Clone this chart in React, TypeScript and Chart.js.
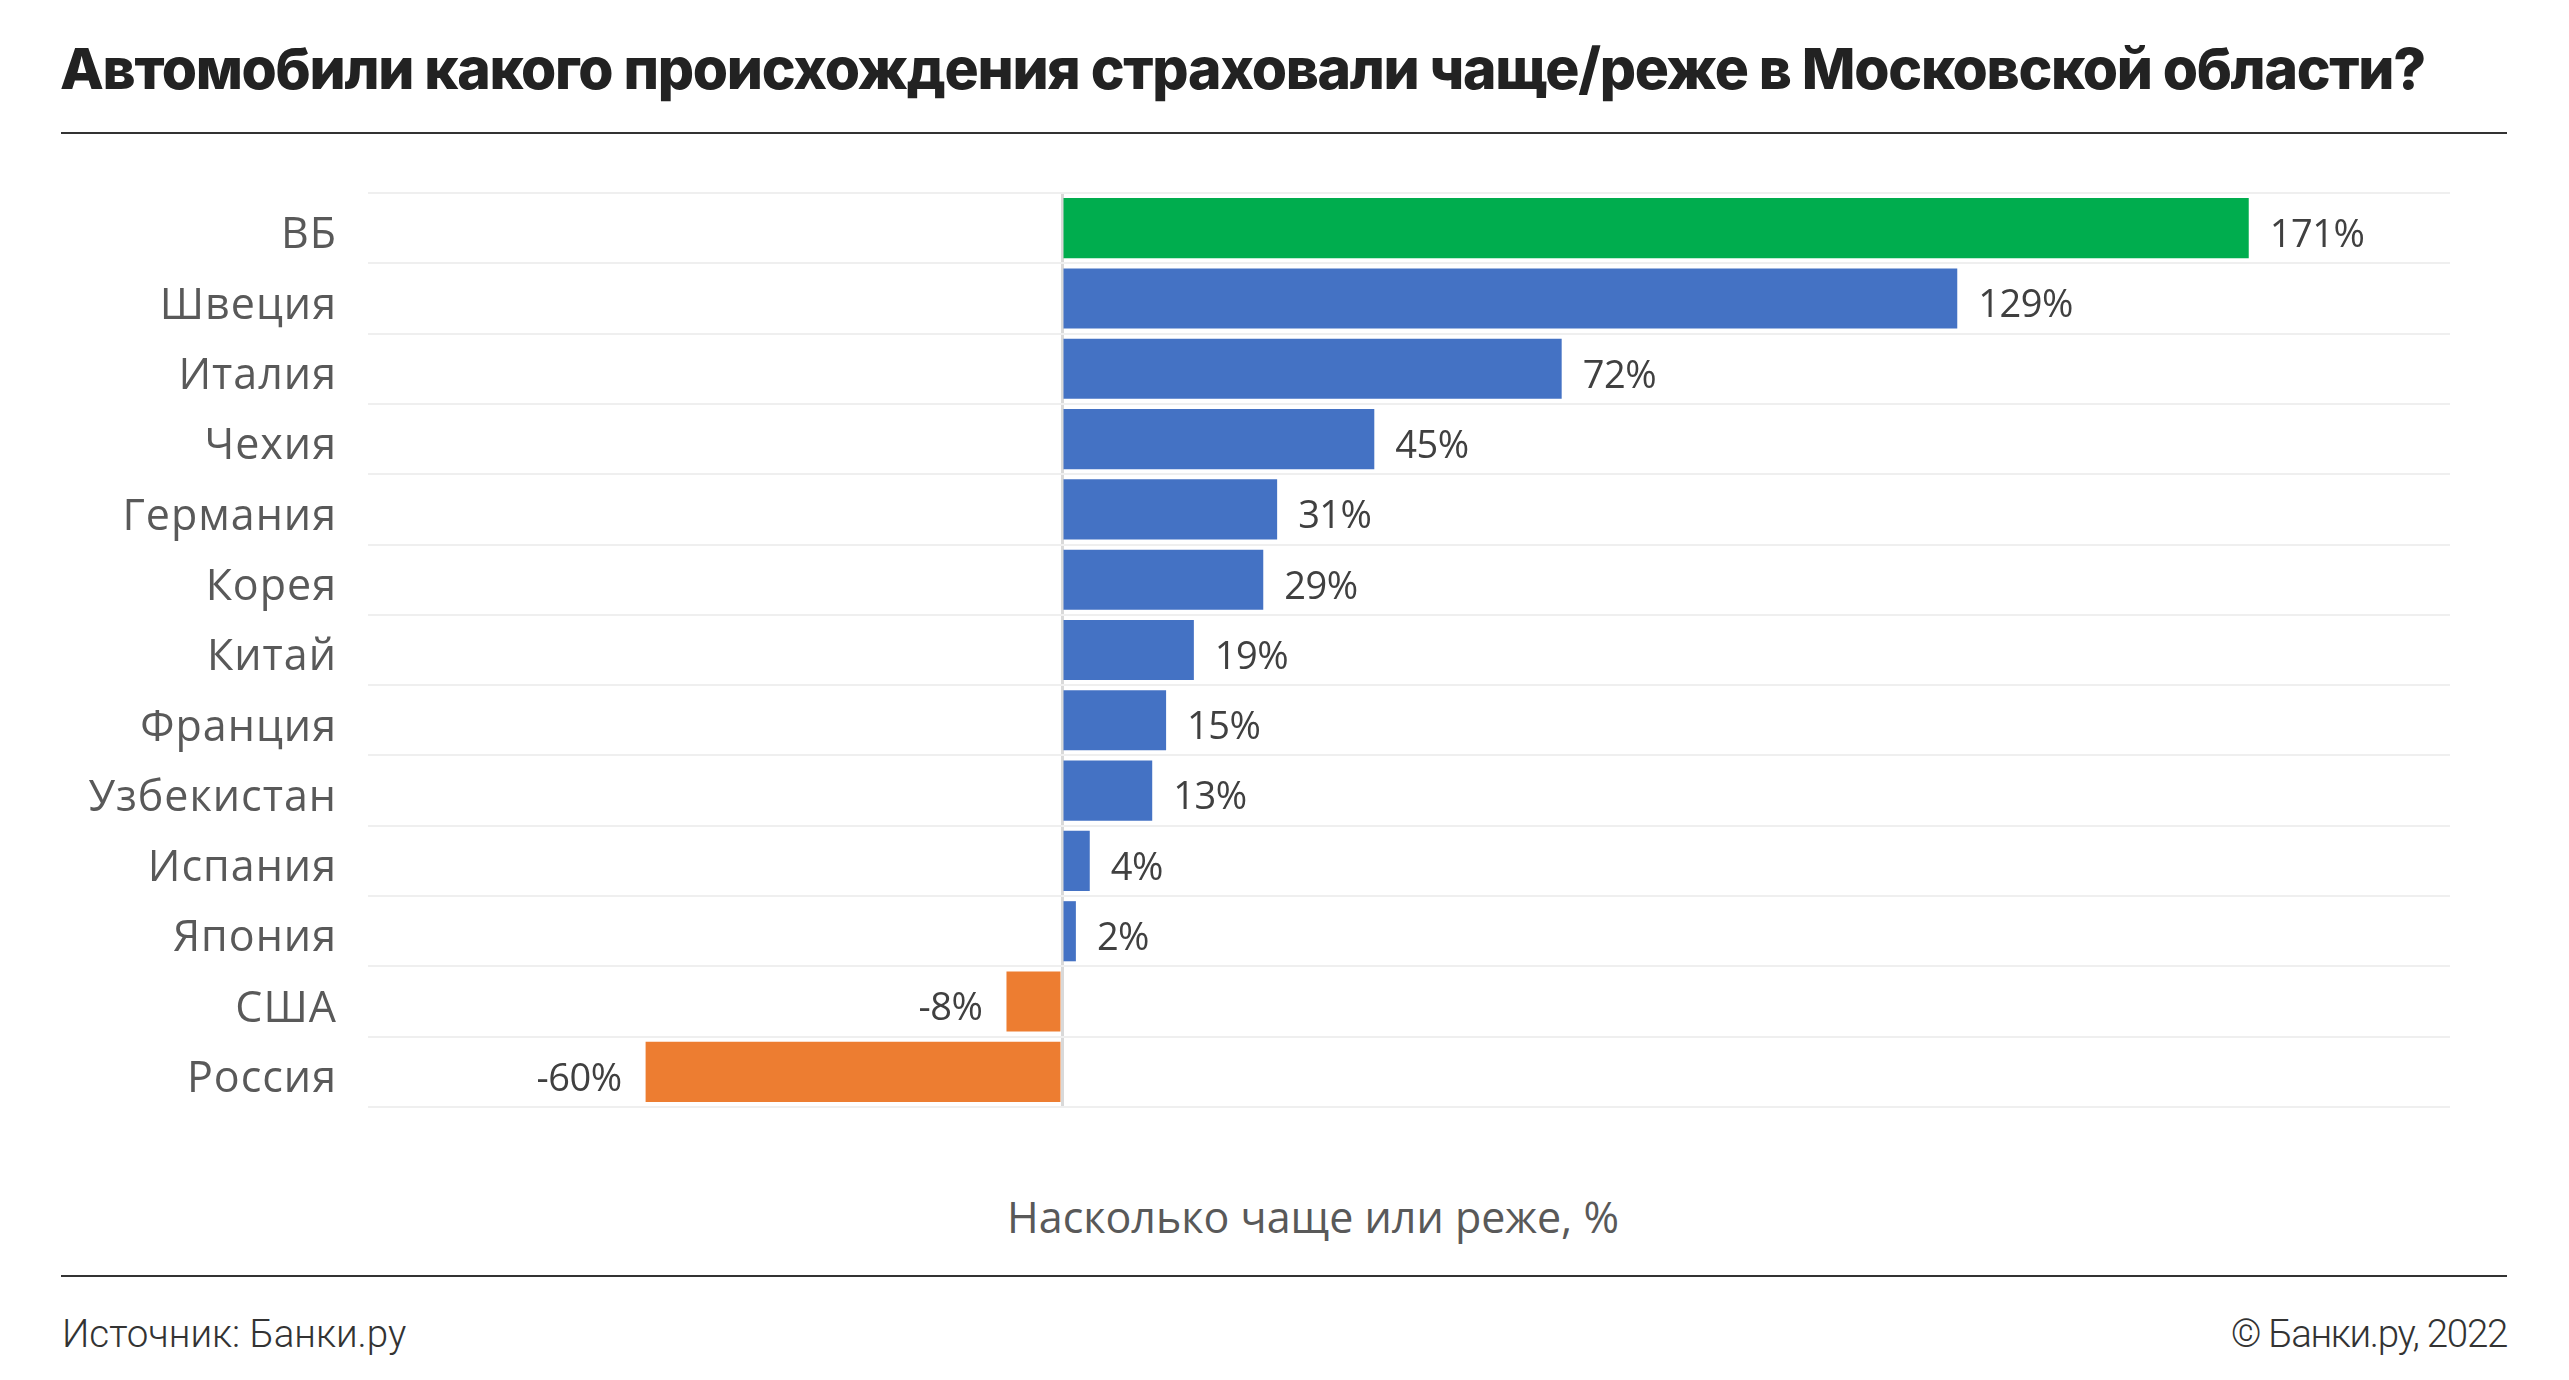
import React, { useEffect, useRef } from "react";
import { Chart, registerables } from "chart.js";

Chart.register(...registerables);

const categories = [
  "ВБ", "Швеция", "Италия", "Чехия", "Германия", "Корея", "Китай",
  "Франция", "Узбекистан", "Испания", "Япония", "США", "Россия",
];
const values = [171, 129, 72, 45, 31, 29, 19, 15, 13, 4, 2, -8, -60];
const xMin = -100;
const xMax = 200;

const TITLE = "Автомобили какого происхождения страховали чаще/реже в Московской области?";
const AXIS_TITLE = "Насколько чаще или реже, %";
const SOURCE = "Источник: Банки.ру";
const COPYRIGHT = "© Банки.ру, 2022";

const GREEN = "#00ad4e";
const BLUE = "#4472c4";
const ORANGE = "#ed7d31";
const LABEL_FONT = "'Open Sans', sans-serif";

export default function App() {
  const canvasRef = useRef<HTMLCanvasElement | null>(null);

  useEffect(() => {
    if (!canvasRef.current) return;
    const spacing = {
      id: "spacing",
      beforeDraw(chart: any) {
        chart.ctx.letterSpacing = "1px";
      },
    };
    const valueLabels = {
      id: "valueLabels",
      afterDatasetsDraw(chart: any) {
        const ctx = chart.ctx;
        const meta = chart.getDatasetMeta(0);
        ctx.save();
        ctx.letterSpacing = "-0.5px";
        ctx.font = `38px ${LABEL_FONT}`;
        ctx.fillStyle = "#404040";
        ctx.textBaseline = "middle";
        meta.data.forEach((bar: any, i: number) => {
          const v = values[i];
          if (v >= 0) {
            ctx.textAlign = "left";
            ctx.fillText(`${v}%`, bar.x + 21, bar.y + 8);
          } else {
            ctx.textAlign = "right";
            ctx.fillText(`${v}%`, bar.x - 24, bar.y + 8);
          }
        });
        ctx.restore();
      },
    };

    const chart = new Chart(canvasRef.current, {
      type: "bar",
      data: {
        labels: categories,
        datasets: [
          {
            data: values,
            backgroundColor: values.map((v, i) => (v < 0 ? ORANGE : i === 0 ? GREEN : BLUE)),
            borderWidth: 0,
            barPercentage: 0.855,
            categoryPercentage: 1,
          },
        ],
      },
      options: {
        indexAxis: "y",
        animation: false,
        responsive: false,
        devicePixelRatio: 1,
        layout: { padding: { left: 0, right: 119, top: 43, bottom: 43 } },
        plugins: {
          legend: { display: false },
          tooltip: { enabled: false },
        },
        scales: {
          x: {
            min: xMin,
            max: xMax,
            z: 1,
            ticks: { display: false, stepSize: 50 },
            border: { display: false },
            grid: {
              drawTicks: false,
              lineWidth: 3,
              color: (c: any) => (c.tick && c.tick.value === 0 ? "#d9d9d9" : "rgba(0,0,0,0)"),
            },
            afterFit(scale: any) {
              scale.height = 0;
              scale.paddingLeft = 0;
              scale.paddingRight = 0;
            },
          },
          y: {
            ticks: {
              autoSkip: false,
              padding: 31,
              labelOffset: 8,
              color: "#595959",
              font: { family: LABEL_FONT, size: 43 },
            },
            border: { display: false },
            grid: { drawTicks: false, color: "#efefef", lineWidth: 2 },
            afterFit(scale: any) {
              scale.width = 368;
              scale.paddingTop = 0;
              scale.paddingBottom = 0;
            },
          },
        },
      },
      plugins: [spacing, valueLabels],
    });
    return () => chart.destroy();
  }, []);

  const abs = (s: React.CSSProperties): React.CSSProperties => ({ position: "absolute", margin: 0, whiteSpace: "nowrap", ...s });

  return (
    <div style={{ position: "absolute", left: 0, top: 0, width: 2569, height: 1380, background: "#fff", overflow: "hidden" }}>
      <div
        style={abs({
          left: 60,
          top: 40,
          fontFamily: "Inter, sans-serif",
          fontWeight: 800,
          fontSize: 57,
          letterSpacing: "-1.3px",
          lineHeight: "58px",
          color: "#222",
        })}
      >
        {TITLE}
      </div>
      <div style={abs({ left: 61, top: 132, width: 2446, height: 2, background: "#333" })} />
      <div style={abs({ left: 0, top: 150, width: 2569, height: 1000 })}>
        <canvas ref={canvasRef} width={2569} height={1000} style={{ display: "block" }} />
      </div>
      <div
        style={abs({
          left: 1313,
          top: 1195,
          transform: "translateX(-50%)",
          fontFamily: LABEL_FONT,
          fontSize: 43,
          lineHeight: "43px",
          color: "#595959",
        })}
      >
        {AXIS_TITLE}
      </div>
      <div style={abs({ left: 61, top: 1275, width: 2446, height: 2, background: "#333" })} />
      <div
        style={abs({
          left: 62,
          top: 1315,
          fontFamily: "Roboto, sans-serif",
          fontWeight: 300,
          fontSize: 38.5,
          lineHeight: "38.5px",
          color: "#333",
        })}
      >
        {SOURCE}
      </div>
      <div
        style={abs({
          right: 2569 - 2507,
          top: 1315,
          fontFamily: "Roboto, sans-serif",
          fontWeight: 300,
          fontSize: 38.5,
          letterSpacing: "-1.3px",
          lineHeight: "38.5px",
          color: "#333",
        })}
      >
        {COPYRIGHT}
      </div>
    </div>
  );
}
